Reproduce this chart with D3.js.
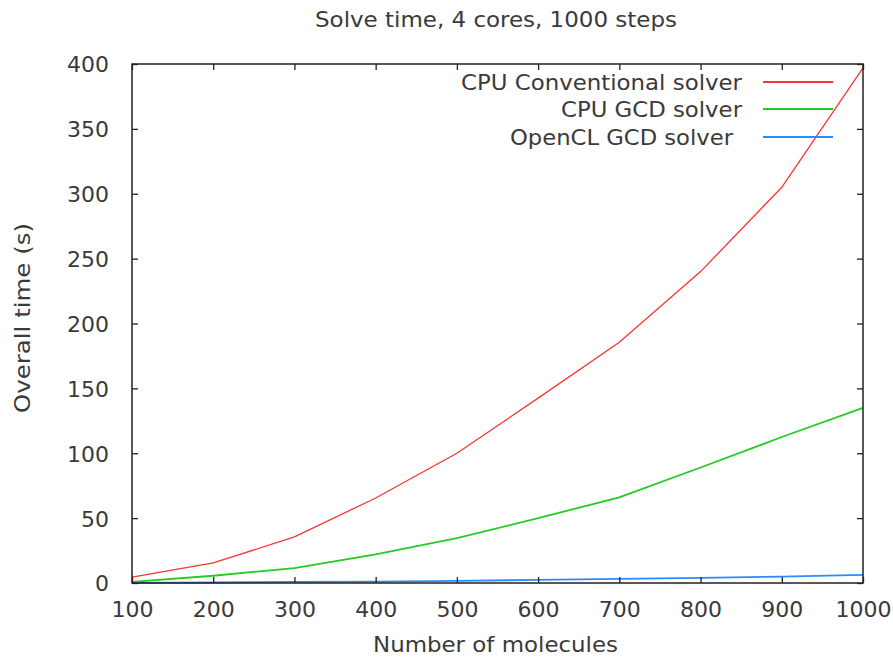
<!DOCTYPE html>
<html>
<head>
<meta charset="utf-8">
<script src="https://cdn.jsdelivr.net/npm/d3@7"></script>
<style>
  html, body { margin: 0; padding: 0; background: #fff; }
  svg { display: block; }
  text { font-family: "DejaVu Sans", Verdana, sans-serif; fill: #3a3a3a; }
</style>
</head>
<body>
<script>
const molecules = [100, 200, 300, 400, 500, 600, 700, 800, 900, 1000];
const cpuConventional = [4.5, 15.5, 35.5, 65.5, 100, 142.5, 185.5, 240, 305, 397];
const cpuGCD = [0.8, 5.6, 11.5, 22, 34.5, 50, 66, 89, 112.5, 135];
const openclGCD = [0.1, 0.4, 0.8, 1.1, 1.6, 2.4, 3.2, 4.0, 4.9, 6.2];
const xTicks = [100, 200, 300, 400, 500, 600, 700, 800, 900, 1000];
const yTicks = [0, 50, 100, 150, 200, 250, 300, 350, 400];
const seriesNames = ["CPU Conventional solver", "CPU GCD solver", "OpenCL GCD solver"];
const seriesColors = ["#ff3333", "#22cc22", "#2a8cff"];
const seriesValues = [cpuConventional, cpuGCD, openclGCD];

const W = 893, H = 658;
const m = { left: 132, right: 863, top: 64, bottom: 583 };

const svg = d3.select("body").append("svg").attr("width", W).attr("height", H);

const x = d3.scaleLinear().domain([100, 1000]).range([m.left, m.right]);
const y = d3.scaleLinear().domain([0, 400]).range([m.bottom, m.top]);

// Lines
const line = d3.line().x((d, i) => x(molecules[i])).y(d => y(d));
seriesValues.forEach((vals, k) => {
  svg.append("path").datum(vals)
    .attr("d", line)
    .attr("fill", "none")
    .attr("stroke", seriesColors[k])
    .attr("stroke-width", k === 0 ? 1.3 : 1.8);
});

// Axes (ticks inward, mirrored)
const tickLen = 6;
const fmt = d3.format("d");
const axB = svg.append("g").attr("transform", `translate(0,${m.bottom})`)
  .call(d3.axisBottom(x).tickValues(xTicks).tickFormat(fmt).tickSize(-tickLen).tickPadding(tickLen + 12));
const axT = svg.append("g").attr("transform", `translate(0,${m.top})`)
  .call(d3.axisTop(x).tickValues(xTicks).tickSize(-tickLen).tickFormat(""));
const axL = svg.append("g").attr("transform", `translate(${m.left},0)`)
  .call(d3.axisLeft(y).tickValues(yTicks).tickFormat(fmt).tickSize(-tickLen).tickPadding(tickLen + 16));
const axR = svg.append("g").attr("transform", `translate(${m.right},0)`)
  .call(d3.axisRight(y).tickValues(yTicks).tickSize(-tickLen).tickFormat(""));

[axB, axT, axL, axR].forEach(g => {
  g.select(".domain").remove();
  g.selectAll(".tick line").attr("stroke", "#222").attr("stroke-width", 1.3);
  g.selectAll("text").attr("font-size", 22).attr("fill", "#3a3a3a")
    .attr("font-family", "DejaVu Sans, sans-serif");
});
axB.selectAll("text").attr("y", 34).attr("dy", null);
axL.selectAll("text").attr("x", -23).attr("dy", "0.36em");

// Border
svg.append("rect")
  .attr("x", m.left).attr("y", m.top)
  .attr("width", m.right - m.left).attr("height", m.bottom - m.top)
  .attr("fill", "none").attr("stroke", "#222").attr("stroke-width", 1.5);

// Title
svg.append("text")
  .attr("x", 496).attr("y", 27)
  .attr("text-anchor", "middle")
  .attr("font-size", 21)
  .style("font-stretch", "condensed")
  .attr("font-family", "DejaVu Sans Condensed, DejaVu Sans, sans-serif")
  .attr("textLength", 362).attr("lengthAdjust", "spacingAndGlyphs")
  .text("Solve time, 4 cores, 1000 steps");

// Axis labels
svg.append("text")
  .attr("x", 495.5).attr("y", 652)
  .attr("text-anchor", "middle")
  .attr("font-size", 21)
  .attr("textLength", 245).attr("lengthAdjust", "spacingAndGlyphs")
  .text("Number of molecules");

svg.append("text")
  .attr("transform", `translate(30,318) rotate(-90)`)
  .attr("text-anchor", "middle")
  .attr("font-size", 22)
  .attr("textLength", 190).attr("lengthAdjust", "spacingAndGlyphs")
  .text("Overall time (s)");

// Legend
const legendRows = [
  { x0: 461, x1: 742, y: 82 },
  { x0: 561, x1: 742, y: 109 },
  { x0: 510, x1: 733, y: 137 }
];
seriesNames.forEach((name, k) => {
  const r = legendRows[k];
  svg.append("text")
    .attr("x", r.x0).attr("y", r.y + 8)
    .attr("font-size", 22)
    .attr("textLength", r.x1 - r.x0).attr("lengthAdjust", "spacingAndGlyphs")
    .text(name);
  svg.append("line")
    .attr("x1", 763).attr("x2", 833)
    .attr("y1", r.y).attr("y2", r.y)
    .attr("stroke", seriesColors[k]).attr("stroke-width", 1.8);
});
</script>
</body>
</html>
